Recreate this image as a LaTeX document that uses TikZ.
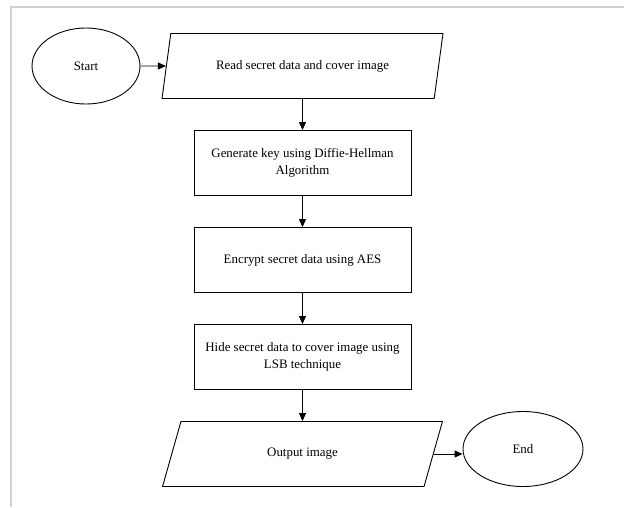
\documentclass[tikz,border=0pt]{standalone}
\usepackage{fontspec}
\setmainfont{Liberation Serif}
\usetikzlibrary{positioning,shapes.geometric,arrows.meta}

\begin{document}
\begin{tikzpicture}[x=1pt,y=-1pt,
    terminal/.style={ellipse,draw,line width=0.9pt,minimum width=108pt,
		minimum height=76pt,inner sep=0pt},
    io/.style={trapezium,trapezium left angle=72,trapezium right angle=108,
		trapezium stretches=true,draw,line width=0.9pt,
		minimum width=281pt,minimum height=65pt},
    process/.style={rectangle,draw,line width=0.9pt,minimum width=217pt,
		minimum height=65pt,align=center},
    every node/.style={font=\fontsize{12.9}{17}\selectfont}
    ]
%%% frame of the figure
   \useasboundingbox (0,0) rectangle (624,507);
   \draw [line width=1.5pt,black!18] (11,507) -- (11,7) -- (624,7);
%%% flow chart
   \begin{scope}[node distance=97pt,on grid,line width=0.9pt,
		>={Triangle[length=8pt,width=7pt]}]
       \node [terminal] (start) at (86,66) {Start};
       \node [io] (read) [right=216.5pt of start] {Read secret data and cover image};
       \node [process] (keygen) [below=of read] {Generate key using Diffie-Hellman\\Algorithm};
       \node [process] (encrypt) [below=of keygen] {Encrypt secret data using AES};
       \node [process] (hide) [below=of encrypt] {Hide secret data to cover image using\\LSB technique};
       \node [io] (output) [below=of hide] {Output image};
       \node [terminal,minimum width=120pt,minimum height=75pt] (finish) [right=220.5pt of output,yshift=5pt] {End};

       \draw[->] (start) -- (read);
       \draw[->] (read) -- (keygen);
       \draw[->] (keygen) -- (encrypt);
       \draw[->] (encrypt) -- (hide);
       \draw[->] (hide) -- (output);
       \draw[->] (output.east) -- (output.east -| finish.west);
   \end{scope}
\end{tikzpicture}
\end{document}
